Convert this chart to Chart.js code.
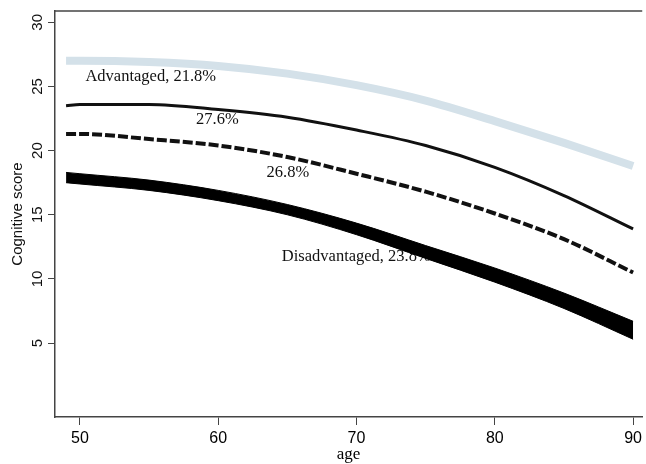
<!DOCTYPE html>
<html>
<head>
<meta charset="utf-8">
<script src="https://cdn.jsdelivr.net/npm/chart.js@4.4.1/dist/chart.umd.min.js"></script>
<style>
    html, body { margin: 0; padding: 0; background: #fff; }
    #wrap { width: 646px; height: 464px; }
</style>
</head>
<body>
<div id="wrap"><canvas id="chart"></canvas></div>
<script>
let ages = [49, 50, 55, 60, 65, 70, 75, 80, 85, 90];
let advantaged = [27.0, 27.0, 26.9, 26.6, 26.0, 25.1, 23.9, 22.3, 20.6, 18.8];
let group276 = [23.5, 23.6, 23.6, 23.2, 22.6, 21.6, 20.4, 18.7, 16.5, 13.9];
let group268 = [21.3, 21.3, 20.9, 20.4, 19.5, 18.2, 16.8, 15.1, 13.1, 10.5];
let disadvUpper = [18.3, 18.2, 17.7, 16.9, 15.8, 14.35, 12.6, 10.85, 8.9, 6.7];
let disadvLower = [17.5, 17.4, 16.9, 16.1, 15.0, 13.45, 11.6, 9.75, 7.7, 5.3];

let xTicks = [50, 60, 70, 80, 90];
let yTicks = [5, 10, 15, 20, 25, 30];

let labelTexts = ['Advantaged, 21.8%', '27.6%', '26.8%', 'Disadvantaged, 23.8%'];
let labelAges = [50.4, 58.4, 63.5, 64.6];
let labelScores = [25.8, 22.4, 18.3, 11.7];

let axisColor = '#444';
let sans = '"Liberation Sans", Arial, sans-serif';
let serif = '"Liberation Serif", "Times New Roman", serif';

function points(values) {
    return ages.map(function (a, i) { return { x: a, y: values[i] }; });
}

function line(values, color, width, dash) {
    return {
        data: points(values),
        borderColor: color,
        borderWidth: width,
        borderDash: dash || [],
        borderCapStyle: 'butt',
        pointRadius: 0,
        fill: false,
        cubicInterpolationMode: 'monotone'
    };
}

// labels on the curves + top frame line
let extras = {
    id: 'extras',
    beforeDatasetsDraw: function (chart) {
        let ctx = chart.ctx;
        let x = chart.scales.x;
        let y = chart.scales.y;
        ctx.save();
        ctx.fillStyle = '#111';
        ctx.font = '16.5px ' + serif;
        ctx.textAlign = 'left';
        ctx.textBaseline = 'middle';
        for (let i = 0; i < labelTexts.length; i++) {
            ctx.fillText(labelTexts[i], x.getPixelForValue(labelAges[i]), y.getPixelForValue(labelScores[i]));
        }
        ctx.restore();
    },
    afterDraw: function (chart) {
        let ctx = chart.ctx;
        let area = chart.chartArea;
        ctx.save();
        ctx.strokeStyle = axisColor;
        ctx.lineWidth = 1.5;
        ctx.beginPath();
        ctx.moveTo(area.left, area.top);
        ctx.lineTo(area.right, area.top);
        ctx.stroke();
        ctx.restore();
    }
};

let upper = line(disadvUpper, '#000', 1);
upper.fill = '+1';
upper.backgroundColor = '#000';
let lower = line(disadvLower, '#000', 1);

new Chart(document.getElementById('chart').getContext('2d'), {
    type: 'line',
    data: {
        datasets: [
            line(advantaged, '#d4e1e9', 8),
            line(group276, '#111', 3),
            line(group268, '#111', 4, [10, 3]),
            upper,
            lower
        ]
    },
    options: {
        responsive: true,
        maintainAspectRatio: false,
        animation: false,
        layout: { padding: { top: 11, right: 0, bottom: 0, left: 0 } },
        plugins: {
            legend: { display: false },
            tooltip: { enabled: false }
        },
        scales: {
            x: {
                type: 'linear',
                min: 48.2,
                max: 90.66,
                afterBuildTicks: function (scale) {
                    scale.ticks = xTicks.map(function (v) { return { value: v }; });
                },
                afterFit: function (scale) { scale.height = 47; },
                grid: { drawOnChartArea: false, tickLength: 8, color: axisColor },
                border: { color: axisColor, width: 1.5 },
                ticks: { font: { family: sans, size: 16 }, color: '#000', padding: 4, maxRotation: 0, autoSkip: false },
                title: {
                    display: true,
                    text: 'age',
                    color: '#000',
                    font: { family: serif, size: 17 },
                    padding: { top: 0, bottom: -1 }
                }
            },
            y: {
                min: -0.76,
                max: 30.88,
                afterBuildTicks: function (scale) {
                    scale.ticks = yTicks.map(function (v) { return { value: v }; });
                },
                afterFit: function (scale) { scale.width = 55; },
                grid: { drawOnChartArea: false, tickLength: 7, color: axisColor },
                border: { color: axisColor, width: 1.5 },
                ticks: { font: { family: sans, size: 15 }, color: '#111', padding: 2, minRotation: 90, maxRotation: 90, crossAlign: 'center', autoSkip: false },
                title: {
                    display: true,
                    text: 'Cognitive score',
                    color: '#111',
                    font: { family: sans, size: 15 },
                    padding: { top: 9, bottom: 0 }
                }
            }
        }
    },
    plugins: [extras]
});
</script>
</body>
</html>
